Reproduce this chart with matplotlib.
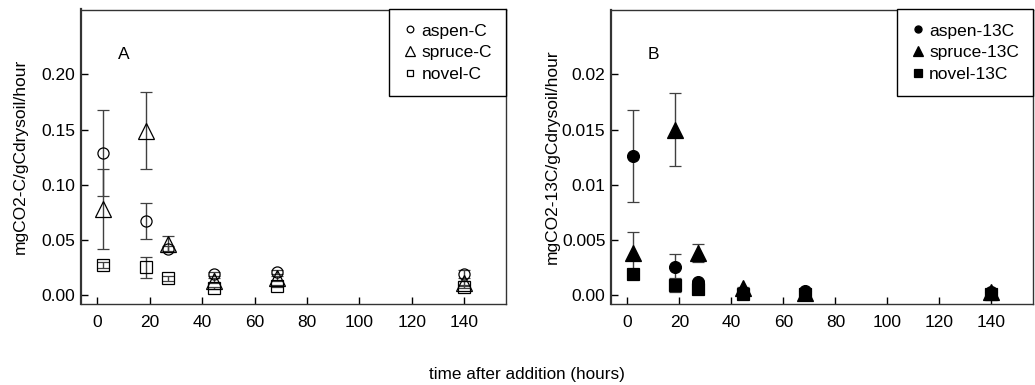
import matplotlib
matplotlib.use("Agg")
import matplotlib.pyplot as plt

plt.rcParams['font.family'] = ['Liberation Sans', 'DejaVu Sans']

# sampling times (hours)
hours = [2, 18.5, 27, 44.5, 68.5, 140]

# panel A: total C
aspen_c = [0.129, 0.067, 0.042, 0.019, 0.021, 0.019]
aspen_c_err = [0.039, 0.016, 0.002, 0.002, 0.002, 0.004]
spruce_c = [0.078, 0.149, 0.046, 0.013, 0.015, 0.011]
spruce_c_err = [0.036, 0.035, 0.007, 0.002, 0.002, 0.002]
novel_c = [0.027, 0.025, 0.015, 0.006, 0.008, 0.007]
novel_c_err = [0.003, 0.0095, 0.002, 0.001, 0.001, 0.001]

# panel B: 13C
aspen_13c = [0.0126, 0.0025, 0.0012, 0.0003, 0.0004, 0.0003]
aspen_13c_err = [0.0042, 0.0012, 0.0002, 0.0001, 0.0001, 0.0001]
spruce_13c = [0.0038, 0.0150, 0.0038, 0.0006, 0.0002, 0.0003]
spruce_13c_err = [0.0019, 0.0033, 0.0008, 0.0001, 0.0001, 0.0001]
novel_13c = [0.0019, 0.0009, 0.0005, 0.0001, 0.0001, 0.0001]
novel_13c_err = [0.0002, 0.0006, 0.0001, 0.0, 0.0, 0.0]

labels_a = ["aspen-C", "spruce-C", "novel-C"]
labels_b = ["aspen-13C", "spruce-13C", "novel-13C"]

xticks = [0, 20, 40, 60, 80, 100, 120, 140]
yticks_a = [0.0, 0.05, 0.10, 0.15, 0.20]
yticklabels_a = ["0.00", "0.05", "0.10", "0.15", "0.20"]
yticks_b = [0.0, 0.005, 0.01, 0.015, 0.02]
yticklabels_b = ["0.00", "0.005", "0.01", "0.015", "0.02"]

fs = 12.5

fig = plt.figure(figsize=(10.35, 3.85), dpi=100)
ax_a = fig.add_axes([81 / 1035, 81 / 385, 425 / 1035, 294.5 / 385])
ax_b = fig.add_axes([611 / 1035, 81 / 385, 422 / 1035, 294.5 / 385])

ecol = "#404040"


def draw(ax, series, filled):
    handles = []
    for y, err, marker, ms in series:
        c = ax.errorbar(hours, y, yerr=err, fmt=marker, ms=ms,
                        mfc="black" if filled else "none", mec="black", mew=0.9,
                        ecolor=ecol, elinewidth=1, capsize=4, capthick=1)
        handles.append(c[0])
    return handles


h_a = draw(ax_a, [(aspen_c, aspen_c_err, "o", 8),
                  (spruce_c, spruce_c_err, "^", 12),
                  (novel_c, novel_c_err, "s", 8)], False)
h_b = draw(ax_b, [(aspen_13c, aspen_13c_err, "o", 8.5),
                  (spruce_13c, spruce_13c_err, "^", 11),
                  (novel_13c, novel_13c_err, "s", 8.5)], True)

for ax, hs, labs, yt, ytl, scale, lab, letter, lx in [
        (ax_a, h_a, labels_a, yticks_a, yticklabels_a, 1.0,
         "mgCO2-C/gCdrysoil/hour", "A", -0.125),
        (ax_b, h_b, labels_b, yticks_b, yticklabels_b, 0.1,
         "mgCO2-13C/gCdrysoil/hour", "B", -0.121)]:
    ax.set_xlim(-6.3, 156)
    ax.set_ylim(-0.0082 * scale, 0.2588 * scale)
    ax.set_xticks(xticks)
    ax.set_yticks(yt)
    ax.set_yticklabels(ytl)
    ax.tick_params(axis="both", direction="in", length=5, width=1,
                   labelsize=fs, colors="black")
    ax.tick_params(axis="x", pad=8)
    ax.tick_params(axis="y", pad=4)
    for sp in ax.spines.values():
        sp.set_linewidth(1.0)
        sp.set_color("#333333")
    ax.spines["left"].set_linewidth(1.6)
    ax.set_ylabel(lab, fontsize=fs)
    ax.yaxis.set_label_coords(lx, 0.5)
    ax.text(10, 0.218 * scale, letter, fontsize=fs, ha="center", va="center")
    leg = ax.legend(hs, labs, loc="upper right", borderaxespad=0, fontsize=fs,
                    markerscale=0.6, handletextpad=0.25, handlelength=0.8,
                    labelspacing=0.38, borderpad=0.8, fancybox=False,
                    framealpha=1, numpoints=1)
    leg.get_frame().set_edgecolor("black")
    leg.get_frame().set_linewidth(1.0)

fig.text(0.509, 1 - 375 / 385, "time after addition (hours)", fontsize=12.3,
         ha="center", va="center")

fig.savefig("out.png", dpi=100)
